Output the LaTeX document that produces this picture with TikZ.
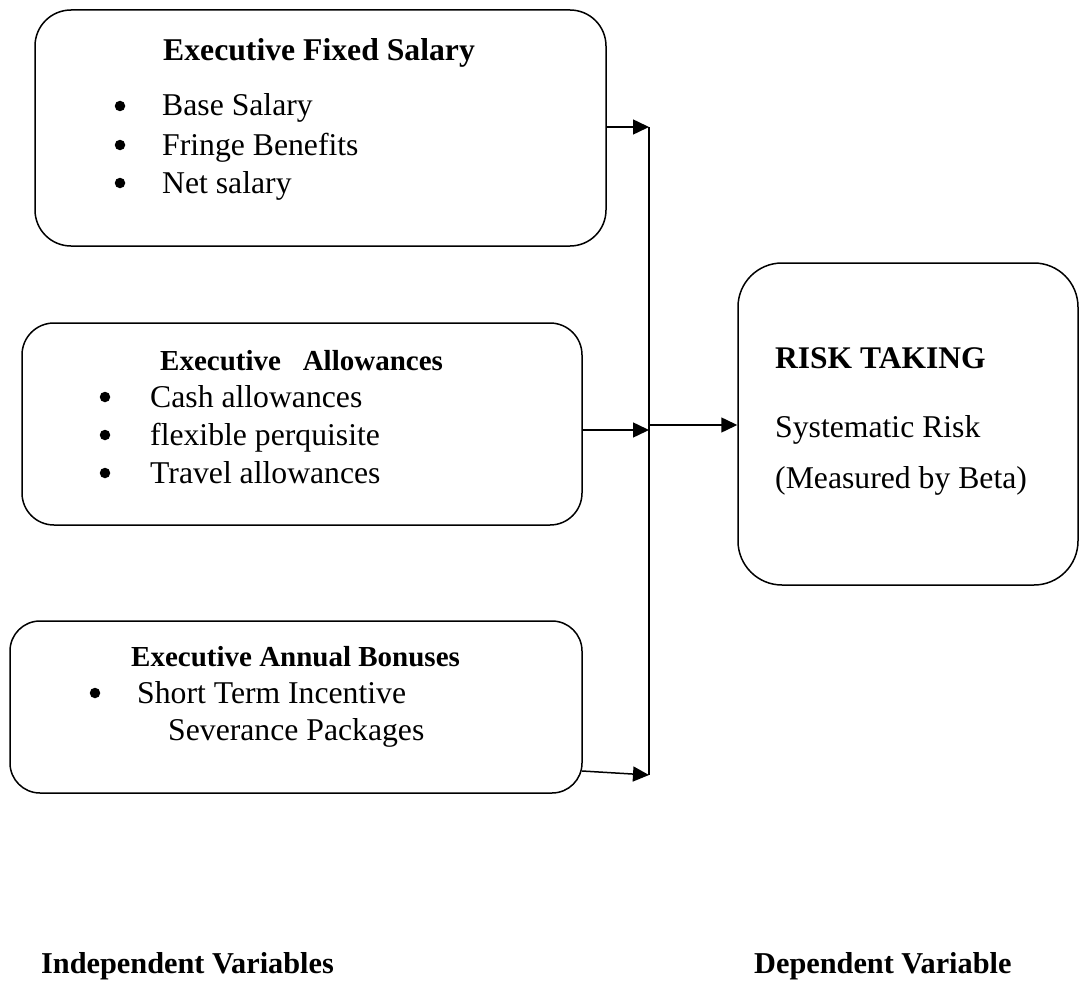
\documentclass[tikz,border=0pt]{standalone}
\usepackage{fontspec}
\setmainfont{Liberation Serif}
\usetikzlibrary{arrows.meta}
\begin{document}
\begin{tikzpicture}[x=1pt,y=-1pt,
  box/.style={draw,line width=1.5pt,rounded corners=#1,inner sep=0pt},
  box/.default=32pt,
  conn/.style={line width=1.5pt},
  arr/.style={line width=1.5pt,-{Triangle[length=16pt,width=15pt]}},
  txt/.style={anchor=base west,inner sep=0pt,font=\fontsize{31.7}{38}\selectfont},
  ttl/.style={anchor=base west,inner sep=0pt,font=\fontsize{#1}{36}\selectfont\bfseries},
  ttl/.default=31.7,
  bul/.style={circle,fill,inner sep=0pt,minimum size=10.5pt}]
\useasboundingbox (0,0) rectangle (1080,982);
% boxes
\node[box=36pt,minimum width=571pt,minimum height=236pt] (b1) at (320.5,128) {};
\node[box=32pt,minimum width=560pt,minimum height=202pt] (b2) at (302,424) {};
\node[box=30pt,minimum width=572pt,minimum height=172pt] (b3) at (296,707) {};
\node[box=44pt,minimum width=340pt,minimum height=322pt] (r) at (908,424) {};
% box 1 text
\node[ttl] (t1) at (163,61) {Executive Fixed Salary};
\node[bul] (p11) at (120,106) {};
\node[txt] (i11) at (162,116) {Base Salary};
\node[bul] (p12) at (120,145) {};
\node[txt] (i12) at (162,155) {Fringe Benefits};
\node[bul] (p13) at (120,183) {};
\node[txt] (i13) at (162,193) {Net salary};
% box 2 text
\node[ttl=29] (t2) at (160,370) {Executive\ \ \ Allowances};
\node[bul] (p21) at (105,397) {};
\node[txt] (i21) at (150,407) {Cash allowances};
\node[bul] (p22) at (105,435) {};
\node[txt] (i22) at (150,445) {flexible perquisite};
\node[bul] (p23) at (105,473) {};
\node[txt] (i23) at (150,483) {Travel allowances};
% box 3 text
\node[ttl=29] (t3) at (131,666) {Executive Annual Bonuses};
\node[bul] (p31) at (95,693) {};
\node[txt] (i31) at (137,703) {Short Term Incentive};
\node[txt] (i32) at (168,740) {Severance Packages};
% right box text
\node[ttl=31.5] (tr) at (775,368) {RISK TAKING};
\node[txt] (ir1) at (775,437) {Systematic Risk};
\node[txt] (ir2) at (775,488) {(Measured by Beta)};
% bottom labels
\node[ttl=30.3] (lI) at (41,973) {Independent Variables};
\node[ttl=30.3] (lD) at (754,973) {Dependent Variable};
% connectors
\coordinate (j1) at (649,127);
\coordinate (j2) at (649,430);
\coordinate (j3) at (649,775);
\coordinate (jm) at (649,425);
\coordinate (s3) at (582,771);
\draw[conn] (j1) -- (j3);
\draw[arr] (b1.east |- j1) -- (j1);
\draw[arr] (b2.east |- j2) -- (j2);
\draw[arr] (s3) -- (j3);
\draw[arr] (jm) -- (r.west |- jm);
\end{tikzpicture}
\end{document}
